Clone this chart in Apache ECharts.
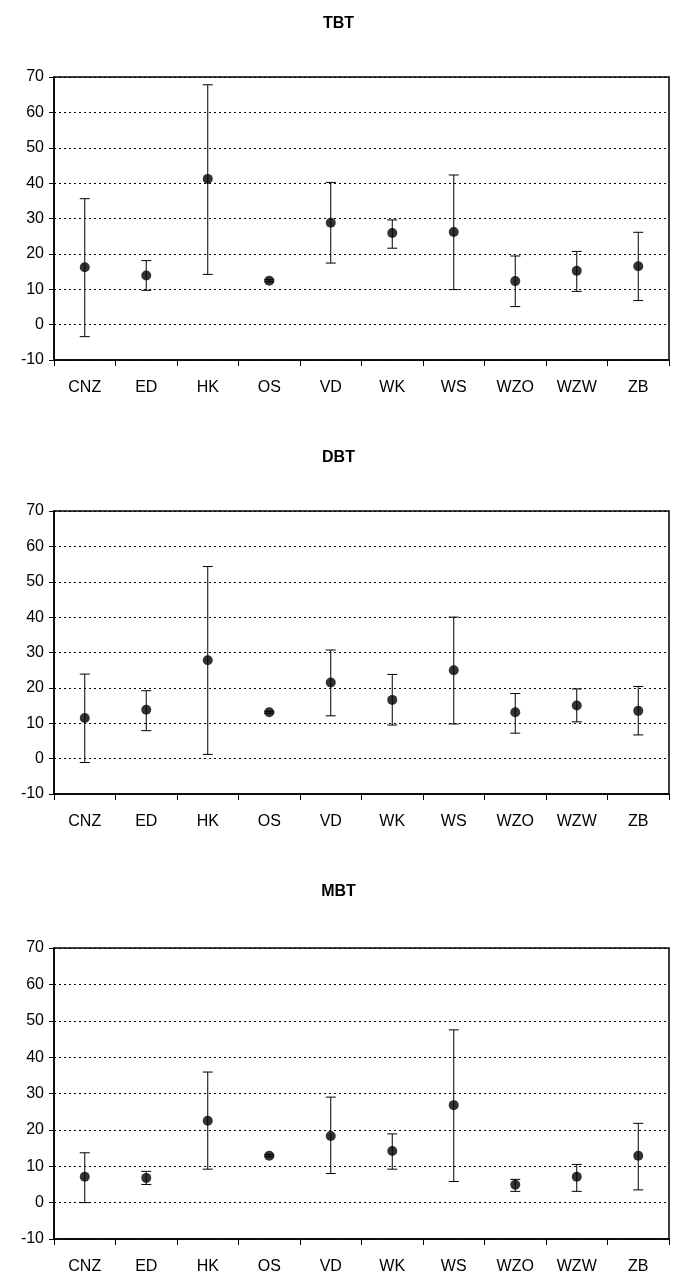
<!DOCTYPE html>
<html>
<head>
<meta charset="utf-8">
<script src="https://cdn.jsdelivr.net/npm/echarts@6/dist/echarts.min.js"></script>
<style>
  html, body { margin: 0; padding: 0; background: #fff; }
  #main { width: 677px; height: 1279px; }
</style>
</head>
<body>
<div id="main"></div>
<script>
var categories = ['CNZ', 'ED', 'HK', 'OS', 'VD', 'WK', 'WS', 'WZO', 'WZW', 'ZB'];
var yTicks = { min: -10, max: 70, interval: 10 };

// TBT
var tbtMean = [16.2, 13.9, 41.2, 12.4, 28.8, 25.9, 26.2, 12.3, 15.2, 16.5];
var tbtLow  = [-3.4, 9.7, 14.2, 12.1, 17.4, 21.6, 9.9, 5.1, 9.4, 6.8];
var tbtHigh = [35.6, 18.1, 67.8, 12.7, 40.2, 29.6, 42.3, 19.4, 20.7, 26.1];

// DBT
var dbtMean = [11.5, 13.8, 27.8, 13.1, 21.5, 16.6, 25.0, 13.1, 15.0, 13.5];
var dbtLow  = [-1.1, 7.9, 1.2, 12.8, 12.1, 9.5, 9.8, 7.2, 10.4, 6.7];
var dbtHigh = [23.9, 19.2, 54.3, 13.4, 30.7, 23.8, 40.0, 18.4, 19.7, 20.4];

// MBT
var mbtMean = [7.1, 6.8, 22.5, 12.9, 18.3, 14.2, 26.8, 4.9, 7.1, 12.9];
var mbtLow  = [0.0, 5.0, 9.2, 12.6, 8.0, 9.2, 5.8, 3.1, 3.1, 3.5];
var mbtHigh = [13.7, 8.6, 35.9, 13.2, 29.0, 18.9, 47.5, 6.4, 10.5, 21.8];

var panels = [
  { title: 'TBT', mean: tbtMean, low: tbtLow, high: tbtHigh, titleTop: 11,  top: 77,  height: 283 },
  { title: 'DBT', mean: dbtMean, low: dbtLow, high: dbtHigh, titleTop: 445, top: 511, height: 283 },
  { title: 'MBT', mean: mbtMean, low: mbtLow, high: mbtHigh, titleTop: 879, top: 948, height: 291 }
];

var dom = document.getElementById('main');
var myChart = echarts.init(dom, null, { renderer: 'canvas' });

var fontFamily = 'Liberation Sans, Arial, sans-serif';

function renderErrorBar(params, api) {
  var x = api.value(0);
  var lowPt = api.coord([x, api.value(1)]);
  var highPt = api.coord([x, api.value(2)]);
  var cap = 5;
  var style = { stroke: '#000', lineWidth: 1 };
  return {
    type: 'group',
    children: [
      { type: 'line', shape: { x1: highPt[0], y1: highPt[1], x2: lowPt[0], y2: lowPt[1] }, style: style },
      { type: 'line', shape: { x1: highPt[0] - cap, y1: highPt[1], x2: highPt[0] + cap, y2: highPt[1] }, style: style },
      { type: 'line', shape: { x1: lowPt[0] - cap, y1: lowPt[1], x2: lowPt[0] + cap, y2: lowPt[1] }, style: style }
    ]
  };
}

var titles = [], grids = [], xAxes = [], yAxes = [], series = [];

panels.forEach(function (p, i) {
  titles.push({
    text: p.title,
    left: 'center',
    top: p.titleTop,
    textStyle: { fontFamily: fontFamily, fontSize: 16, fontWeight: 'bold', color: '#000' }
  });
  grids.push({
    left: 54, width: 615, top: p.top, height: p.height,
    show: true, borderColor: '#000', borderWidth: 1.5, backgroundColor: '#fff'
  });
  xAxes.push({
    type: 'category',
    gridIndex: i,
    data: categories,
    boundaryGap: true,
    axisLine: { show: true, onZero: false, lineStyle: { color: '#000', width: 1.5 } },
    axisTick: { show: true, inside: false, length: 6, alignWithLabel: false, lineStyle: { color: '#000' } },
    axisLabel: { margin: 20, fontSize: 16, color: '#000', fontFamily: fontFamily },
    splitLine: { show: false }
  });
  yAxes.push({
    type: 'value',
    gridIndex: i,
    min: yTicks.min,
    max: yTicks.max,
    interval: yTicks.interval,
    axisLine: { show: true, lineStyle: { color: '#000', width: 1.5 } },
    axisTick: { show: true, inside: false, length: 5, lineStyle: { color: '#000' } },
    axisLabel: { margin: 10, fontSize: 16, color: '#000', fontFamily: fontFamily },
    splitLine: { show: true, lineStyle: { color: '#000', width: 1, type: [2, 3] } }
  });

  var barData = [];
  for (var k = 0; k < categories.length; k++) {
    barData.push([k, p.low[k], p.high[k]]);
  }
  series.push({
    type: 'custom',
    name: p.title + ' range',
    xAxisIndex: i,
    yAxisIndex: i,
    renderItem: renderErrorBar,
    encode: { x: 0, y: [1, 2] },
    data: barData,
    z: 2
  });
  series.push({
    type: 'scatter',
    name: p.title,
    xAxisIndex: i,
    yAxisIndex: i,
    symbol: 'circle',
    symbolSize: 10,
    itemStyle: { color: '#000' },
    data: p.mean,
    z: 3
  });
});

var option = {
  backgroundColor: '#fff',
  animation: false,
  title: titles,
  grid: grids,
  xAxis: xAxes,
  yAxis: yAxes,
  series: series
};

if (option && typeof option === 'object') {
  myChart.setOption(option);
}
</script>
</body>
</html>
